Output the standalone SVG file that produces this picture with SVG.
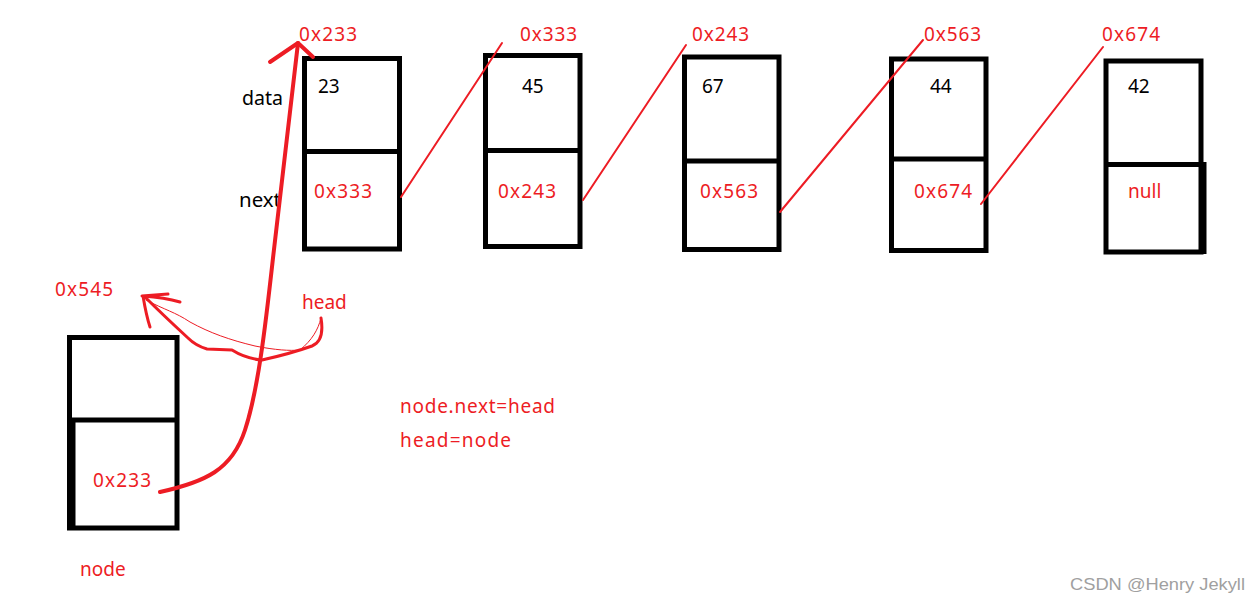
<svg xmlns="http://www.w3.org/2000/svg" width="1258" height="603" viewBox="0 0 1258 603">
<style>
.box{fill:none;stroke:#000;stroke-width:5}
.div{stroke:#000;stroke-width:5}
.t{font-family:"Noto Sans","Liberation Sans",sans-serif;font-size:19px}
.r{fill:#ed1c24}
.k{fill:#000}
.ln{stroke:#ed1c24;stroke-width:2;fill:none;stroke-linecap:round}
.big{stroke:#ed1c24;stroke-width:4;fill:none;stroke-linecap:round;stroke-linejoin:round}
.mid{stroke:#ed1c24;stroke-width:3;fill:none;stroke-linecap:round;stroke-linejoin:round}
.thin{stroke:#ed1c24;stroke-width:1;fill:none}
</style>
<rect width="1258" height="603" fill="#fff"/>
<g id="labels">
<text class="t k" x="242" y="105" textLength="41" lengthAdjust="spacingAndGlyphs">data</text>
<text class="t k" x="239" y="207" textLength="42" lengthAdjust="spacingAndGlyphs">next</text>
</g>
<g id="node1">
<rect class="box" x="304.5" y="58.5" width="95" height="190.5"/>
<line class="div" x1="304.5" y1="151.5" x2="399.5" y2="151.5"/>
<text class="t r" x="299" y="41" textLength="58" lengthAdjust="spacing">0x233</text>
<text class="t k" x="318" y="93">23</text>
<text class="t r" x="314" y="198" textLength="58" lengthAdjust="spacing">0x333</text>
</g>
<g id="node2">
<rect class="box" x="485.5" y="55.5" width="94.5" height="191"/>
<line class="div" x1="485.5" y1="150.5" x2="580" y2="150.5"/>
<text class="t r" x="520" y="41" textLength="57" lengthAdjust="spacing">0x333</text>
<text class="t k" x="522" y="93">45</text>
<text class="t r" x="498" y="198" textLength="58" lengthAdjust="spacing">0x243</text>
</g>
<g id="node3">
<rect class="box" x="684.5" y="57" width="94.5" height="192.5"/>
<line class="div" x1="684.5" y1="161" x2="779" y2="161"/>
<text class="t r" x="692" y="41" textLength="57" lengthAdjust="spacing">0x243</text>
<text class="t k" x="702" y="93">67</text>
<text class="t r" x="700" y="198" textLength="58" lengthAdjust="spacing">0x563</text>
</g>
<g id="node4">
<rect class="box" x="891.5" y="59" width="94.5" height="191.5"/>
<line class="div" x1="891.5" y1="159" x2="986" y2="159"/>
<text class="t r" x="924" y="41" textLength="57" lengthAdjust="spacing">0x563</text>
<text class="t k" x="930" y="93">44</text>
<text class="t r" x="914" y="198" textLength="58" lengthAdjust="spacing">0x674</text>
</g>
<g id="node5">
<rect class="box" x="1106" y="61" width="95" height="191"/>
<line class="div" x1="1106" y1="164.5" x2="1203" y2="164.5"/>
<line class="div" x1="1204" y1="162" x2="1204" y2="254"/>
<text class="t r" x="1102" y="41" textLength="58" lengthAdjust="spacing">0x674</text>
<text class="t k" x="1128" y="93">42</text>
<text class="t r" x="1128" y="198">null</text>
</g>
<g id="newnode">
<rect class="box" x="69.5" y="337.5" width="107.5" height="190.5"/>
<line class="div" x1="69.5" y1="420" x2="177" y2="420"/>
<line stroke="#000" stroke-width="4" x1="73.5" y1="420" x2="73.5" y2="528"/>
<text class="t r" x="93" y="487" textLength="58" lengthAdjust="spacing">0x233</text>
<text class="t r" x="80" y="576">node</text>
</g>
<g id="notes">
<text class="t r" x="55" y="296" textLength="58" lengthAdjust="spacing">0x545</text>
<text class="t r" x="302" y="309">head</text>
<text class="t r" x="400" y="413" textLength="155" lengthAdjust="spacing">node.next=head</text>
<text class="t r" x="400" y="447" textLength="111" lengthAdjust="spacing">head=node</text>
<text x="1070" y="590" font-family="'Liberation Sans',Arial,sans-serif" font-size="17" fill="#a0a0a0" textLength="175" lengthAdjust="spacingAndGlyphs">CSDN @Henry Jekyll</text>
</g>
<g id="connectors">
<line class="ln" x1="401" y1="197" x2="502" y2="43"/>
<line class="ln" x1="583" y1="200" x2="686" y2="45"/>
<line class="ln" x1="780" y1="212" x2="923" y2="40"/>
<line class="ln" x1="981" y1="204" x2="1103" y2="47"/>
<path class="big" d="M160,492 C205,482 232,470 245,430 C258,390 265,330 273,258 L298,43"/>
<path class="big" d="M270,62 L298,43 L313,57"/>
<path class="mid" d="M321,318 C323,330 322,342 312,346 C298,351 280,356 262,360 C250,359 240,355 232,350 L207,349 C200,347 193,343 188,338 C175,326 160,312 145,297"/>
<path class="mid" d="M142,296 L168,294 M143,296 C158,297 170,299 180,302 M143,296 C145,308 147,318 150,327"/>
<path class="thin" d="M146,300 C165,310 175,312 190,322 C210,333 230,340 255,346 C275,350 290,351 300,350 C312,340 318,330 321,318"/>
</g>
</svg>
